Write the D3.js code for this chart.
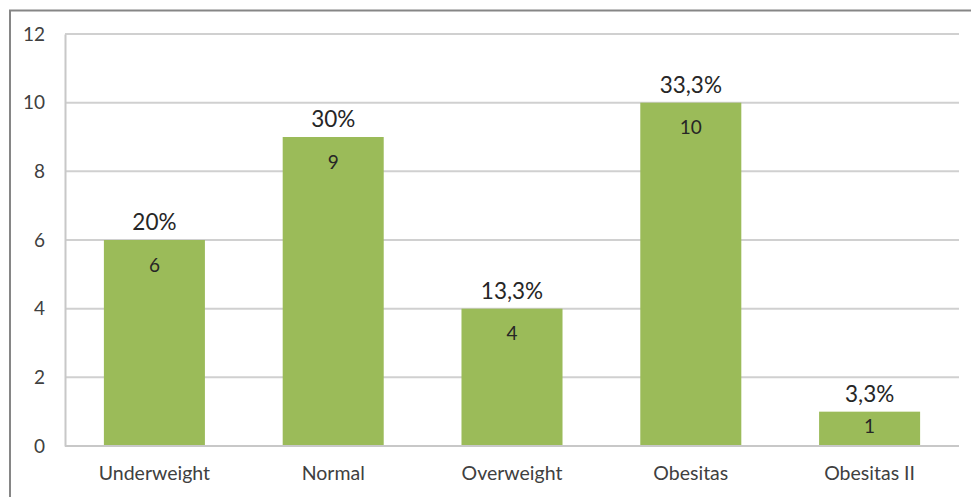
<!DOCTYPE html>
<html><head><meta charset="utf-8">
<script src="https://cdn.jsdelivr.net/npm/d3@7"></script>
<style>body{margin:0;background:#fff}svg{display:block}</style>
</head><body>
<svg id="c" width="971" height="497"></svg>
<script>
const categories = ["Underweight","Normal","Overweight","Obesitas","Obesitas II"];
const counts = [6, 9, 4, 10, 1];
const percentLabels = ["20%","30%","13,3%","33,3%","3,3%"];
const yTicks = [0, 2, 4, 6, 8, 10, 12];

const svg = d3.select("#c");
const font = "Lato, 'Open Sans', sans-serif";
const m = {l: 65, t: 34, r: 959, b: 446};

// outer frame (top and left edges visible)
svg.append("path").attr("d", "M10,497 V10.5 H971").attr("fill","none")
  .attr("stroke","#868686").attr("stroke-width",2);

const x = d3.scaleBand().domain(categories).range([m.l, m.r]).paddingInner(0.435).paddingOuter(0.2175);
const y = d3.scaleLinear().domain([0, 12]).range([m.b, m.t]);

// gridlines
svg.append("g").selectAll("line").data(yTicks.filter(d => d > 0)).join("line")
  .attr("x1", m.l).attr("x2", m.r).attr("y1", d => y(d)).attr("y2", d => y(d))
  .attr("stroke", "#d0d0d0").attr("stroke-width", 2);

// y axis
const yAxis = svg.append("g").attr("transform", `translate(${m.l},0)`)
  .call(d3.axisLeft(y).tickValues(yTicks).tickSize(0).tickPadding(20));
yAxis.select(".domain").attr("stroke", "#c8c8c8").attr("stroke-width", 2);
yAxis.selectAll("text").attr("font-family", font).attr("font-size", 19).attr("fill", "#404040");

// bars
svg.append("g").selectAll("rect").data(counts).join("rect")
  .attr("x", (d, i) => x(categories[i])).attr("width", x.bandwidth())
  .attr("y", d => y(d)).attr("height", d => y(0) - y(d))
  .attr("fill", "#9BBB59");

// baseline
svg.append("line").attr("x1", m.l).attr("x2", m.r).attr("y1", y(0)).attr("y2", y(0))
  .attr("stroke", "#c8c8c8").attr("stroke-width", 2);

// x axis labels
const xAxis = svg.append("g").attr("transform", `translate(0,${y(0)})`)
  .call(d3.axisBottom(x).tickSize(0).tickPadding(20));
xAxis.select(".domain").remove();
xAxis.selectAll("text").attr("font-family", font).attr("font-size", 19.5).attr("fill", "#404040");

// value labels inside bars
svg.append("g").selectAll("text").data(counts).join("text")
  .attr("x", (d, i) => x(categories[i]) + x.bandwidth() / 2)
  .attr("y", d => Math.min(y(d) + 25, (y(d) + y(0)) / 2 - 2))
  .attr("dy", "0.35em").attr("text-anchor", "middle")
  .attr("font-family", font).attr("font-size", 19).attr("fill", "#262626")
  .text(d => d);

// percent labels above bars
svg.append("g").selectAll("text").data(counts).join("text")
  .attr("x", (d, i) => x(categories[i]) + x.bandwidth() / 2)
  .attr("y", d => y(d) - 10)
  .attr("text-anchor", "middle")
  .attr("font-family", font).attr("font-size", 22.5).attr("fill", "#262626")
  .text((d, i) => percentLabels[i]);
</script>
</body></html>
